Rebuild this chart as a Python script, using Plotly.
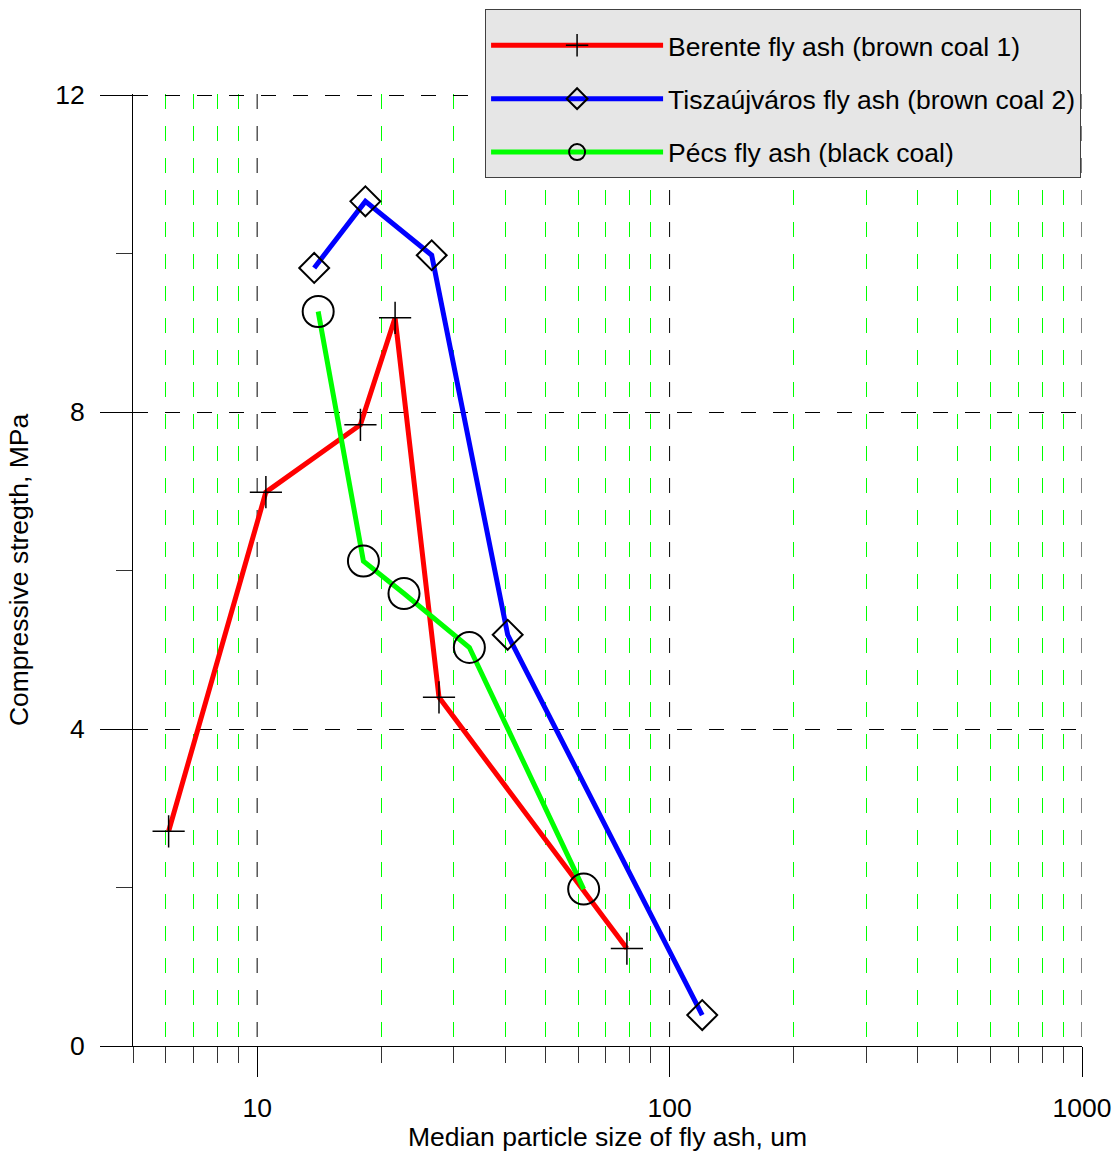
import plotly.graph_objects as go

# Data
berente_x = [6.1, 10.5, 17.8, 21.6, 27.6, 78.8]
berente_y = [2.71, 6.99, 7.84, 9.19, 4.40, 1.23]

tisza_x = [13.75, 18.3, 26.5, 40.5, 120.0]
tisza_y = [9.82, 10.66, 9.98, 5.19, 0.39]

pecs_x = [14.06, 18.1, 22.7, 32.7, 61.9]
pecs_y = [9.27, 6.12, 5.71, 5.03, 1.98]

names = ["Berente fly ash (brown coal 1)",
         "Tiszaújváros fly ash (brown coal 2)",
         "Pécs fly ash (black coal)"]

x_major = [10, 100, 1000]
x_minor = [5, 6, 7, 8, 9, 20, 30, 40, 50, 60, 70, 80, 90,
           200, 300, 400, 500, 600, 700, 800, 900]
y_major = [0, 4, 8, 12]
y_minor = [2, 6, 10]

FONT = "Liberation Sans, Arial, sans-serif"
FS = 26.5
DASH = "15px,17px"

fig = go.Figure()
fig.add_trace(go.Scatter(
    x=berente_x, y=berente_y, name=names[0], mode="lines+markers",
    legendgroup="a",
    line=dict(color="#ff0000", width=5),
    marker=dict(symbol="cross-thin", size=23, color="black",
                line=dict(color="black", width=1.5))))
fig.add_trace(go.Scatter(
    x=tisza_x, y=tisza_y, name=names[1], mode="lines+markers",
    legendgroup="b",
    line=dict(color="#0000ff", width=5),
    marker=dict(symbol="diamond-open", size=23, color="black",
                line=dict(color="black", width=2))))
fig.add_trace(go.Scatter(
    x=pecs_x, y=pecs_y, name=names[2], mode="lines+markers",
    legendgroup="c",
    line=dict(color="#00ff00", width=5),
    marker=dict(symbol="circle-open", size=31, color="black",
                line=dict(color="black", width=2))))

# black dashed gridlines at the major x ticks (placed through the x scale)
for v in x_major:
    fig.add_shape(type="line", xref="x", yref="paper", x0=v, x1=v, y0=1, y1=0,
                  line=dict(color="black", width=1, dash=DASH), layer="below")

fig.update_layout(
    width=1114, height=1152,
    margin=dict(l=133, r=32, t=94, b=106, autoexpand=False),
    paper_bgcolor="white", plot_bgcolor="white",
    font=dict(family=FONT, size=FS, color="black"),
    showlegend=True,
    legend=dict(x=0.371, y=1.0895, xanchor="left", yanchor="top",
                bgcolor="#e6e6e6", bordercolor="#404040", borderwidth=1,
                font=dict(family=FONT, size=FS, color="black"),
                title=dict(text="\u00a0", font=dict(size=9)),
                itemwidth=172, traceorder="grouped", tracegroupgap=16),
    xaxis=dict(
        type="log", range=[0.69897, 3.0],
        tickmode="array", tickvals=x_major, ticktext=[str(v) for v in x_major],
        ticks="outside", ticklen=30, tickcolor="black", tickwidth=1,
        showline=True, linecolor="black", linewidth=1,
        showgrid=False,
        zeroline=False, ticklabelstandoff=8,
        tickfont=dict(family=FONT, size=FS),
        title=dict(text="Median particle size of fly ash, um",
                   font=dict(family=FONT, size=FS), standoff=0),
        minor=dict(tickmode="array", tickvals=x_minor, ticks="outside",
                   ticklen=16, tickcolor="#333333", tickwidth=1,
                   showgrid=True, gridcolor="#00ff00", gridwidth=1,
                   griddash=DASH),
    ),
    yaxis=dict(
        range=[0, 12.015],
        tickmode="array", tickvals=y_major, ticktext=[str(v) for v in y_major],
        ticks="outside", ticklen=32, tickcolor="black", tickwidth=1,
        showline=True, linecolor="black", linewidth=1,
        showgrid=True, gridcolor="black", gridwidth=1, griddash=DASH,
        zeroline=False, ticklabelstandoff=10,
        tickfont=dict(family=FONT, size=FS),
        title=dict(text="Compressive stregth, MPa",
                   font=dict(family=FONT, size=FS), standoff=18),
        minor=dict(tickmode="array", tickvals=y_minor, ticks="outside",
                   ticklen=16, tickcolor="#333333", tickwidth=1,
                   showgrid=False),
    ),
)

fig.write_html("out.html")
